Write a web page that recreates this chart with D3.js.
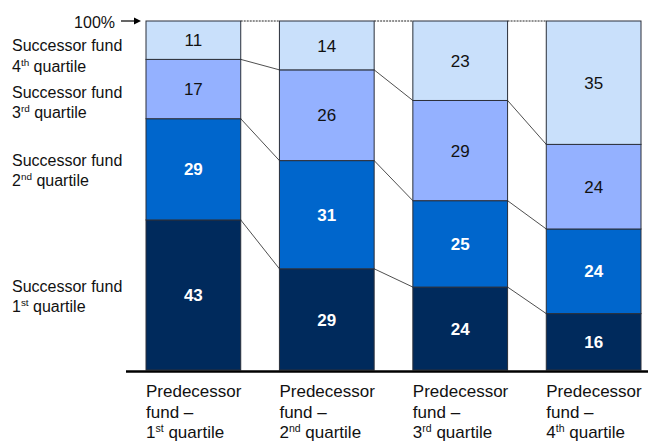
<!DOCTYPE html>
<html>
<head>
<meta charset="utf-8">
<script src="https://cdn.jsdelivr.net/npm/d3@7"></script>
<style>
  body { margin: 0; background: #fff; }
  svg { font-family: Arial, "Liberation Sans", sans-serif; }
</style>
</head>
<body>
<svg id="chart" width="648" height="441"></svg>
<script>
// Predecessor fund quartiles (columns)
const predecessors = [
  ["Predecessor", "fund \u2013", ["1", "st", " quartile"]],
  ["Predecessor", "fund \u2013", ["2", "nd", " quartile"]],
  ["Predecessor", "fund \u2013", ["3", "rd", " quartile"]],
  ["Predecessor", "fund \u2013", ["4", "th", " quartile"]]
];
// Successor fund quartile shares, bottom (1st) to top (4th)
const successorQ1 = [43, 29, 24, 16];
const successorQ2 = [29, 31, 25, 24];
const successorQ3 = [17, 26, 29, 24];
const successorQ4 = [11, 14, 23, 35];
const seriesLabels = [
  ["1", "st"], ["2", "nd"], ["3", "rd"], ["4", "th"]
];
const seriesColors = ["#002a5c", "#0066cc", "#94b1ff", "#c9e0fb"];
const seriesText = ["#fff", "#fff", "#111", "#111"];
const seriesBold = [true, true, false, false];

const svg = d3.select("#chart");
const baseY = 370;
const topY = 21;

// bars sit at 146..240, 279..374, 412..508, 545..641
const x = d3.scaleBand()
  .domain(d3.range(predecessors.length))
  .range([146, 641])
  .paddingInner(0.29)
  .paddingOuter(0);

const y = d3.scaleLinear().domain([0, 1]).range([baseY, topY]);

const series = [successorQ1, successorQ2, successorQ3, successorQ4];

// Build normalized stacks per column (each column fills 100%)
const table = predecessors.map((p, i) => {
  const row = {col: i};
  series.forEach((s, k) => row["q" + k] = s[i]);
  return row;
});
const keys = ["q0", "q1", "q2", "q3"];
const stacked = d3.stack().keys(keys).offset(d3.stackOffsetExpand)(table);

// connectors between bars
const g = svg.append("g");
stacked.forEach((layer, k) => {
  for (let i = 0; i < layer.length - 1; i++) {
    const a = layer[i], b = layer[i + 1];
    const top = k === keys.length - 1;
    g.append("line")
      .attr("x1", x(i) + x.bandwidth())
      .attr("x2", x(i + 1))
      .attr("y1", y(a[1]))
      .attr("y2", y(b[1]))
      .attr("stroke", "#222")
      .attr("stroke-width", top ? 1 : 0.8)
      .attr("stroke-dasharray", top ? "2,1" : null);
  }
});

// bars
stacked.forEach((layer, k) => {
  const lg = svg.append("g");
  lg.selectAll("rect")
    .data(layer)
    .join("rect")
    .attr("x", (d, i) => x(i))
    .attr("y", d => y(d[1]))
    .attr("width", x.bandwidth())
    .attr("height", d => y(d[0]) - y(d[1]))
    .attr("fill", seriesColors[k])
    .attr("stroke", "#2a2f3a")
    .attr("stroke-width", 1);

  lg.selectAll("text")
    .data(layer)
    .join("text")
    .attr("x", (d, i) => x(i) + x.bandwidth() / 2)
    .attr("y", d => (y(d[0]) + y(d[1])) / 2)
    .attr("dy", "0.36em")
    .attr("text-anchor", "middle")
    .attr("font-size", 17)
    .attr("font-weight", seriesBold[k] ? "bold" : "normal")
    .attr("fill", seriesText[k])
    .text(d => d.data["q" + k]);
});

// baseline
svg.append("line")
  .attr("x1", 126).attr("x2", 648)
  .attr("y1", baseY + 1.5).attr("y2", baseY + 1.5)
  .attr("stroke", "#000").attr("stroke-width", 2.5);

// 100% marker
svg.append("text")
  .attr("x", 115).attr("y", 27.5)
  .attr("text-anchor", "end")
  .attr("font-size", 16)
  .attr("fill", "#111")
  .text("100%");
svg.append("line")
  .attr("x1", 121).attr("x2", 136)
  .attr("y1", topY).attr("y2", topY)
  .attr("stroke", "#000").attr("stroke-width", 1.2);
svg.append("path")
  .attr("d", "M141,21 L134,17.5 L134,24.5 Z")
  .attr("fill", "#000");

// helper for superscript lines
function supLine(sel, parts, size) {
  sel.append("tspan").text(parts[0]);
  sel.append("tspan").attr("font-size", size * 0.62).attr("dy", -6).text(parts[1]);
  sel.append("tspan").attr("dy", 6).text(parts[2]);
}

// successor labels on the left
const leftBaselines = [291.5, 165.5, 97.5, 51];
seriesLabels.forEach((lab, k) => {
  svg.append("text")
    .attr("x", 12).attr("y", leftBaselines[k])
    .attr("font-size", 16).attr("fill", "#111")
    .text("Successor fund");
  const t2 = svg.append("text")
    .attr("x", 12).attr("y", leftBaselines[k] + 20.5)
    .attr("font-size", 16).attr("fill", "#111");
  supLine(t2, [lab[0], lab[1], " quartile"], 16);
});

// column labels
predecessors.forEach((p, i) => {
  const x0 = x(i);
  svg.append("text").attr("x", x0).attr("y", 397)
    .attr("font-size", 17).attr("fill", "#111").text(p[0]);
  svg.append("text").attr("x", x0).attr("y", 417.5)
    .attr("font-size", 17).attr("fill", "#111").text(p[1]);
  const t = svg.append("text").attr("x", x0).attr("y", 438)
    .attr("font-size", 17).attr("fill", "#111");
  supLine(t, p[2], 17);
});
</script>
</body>
</html>
